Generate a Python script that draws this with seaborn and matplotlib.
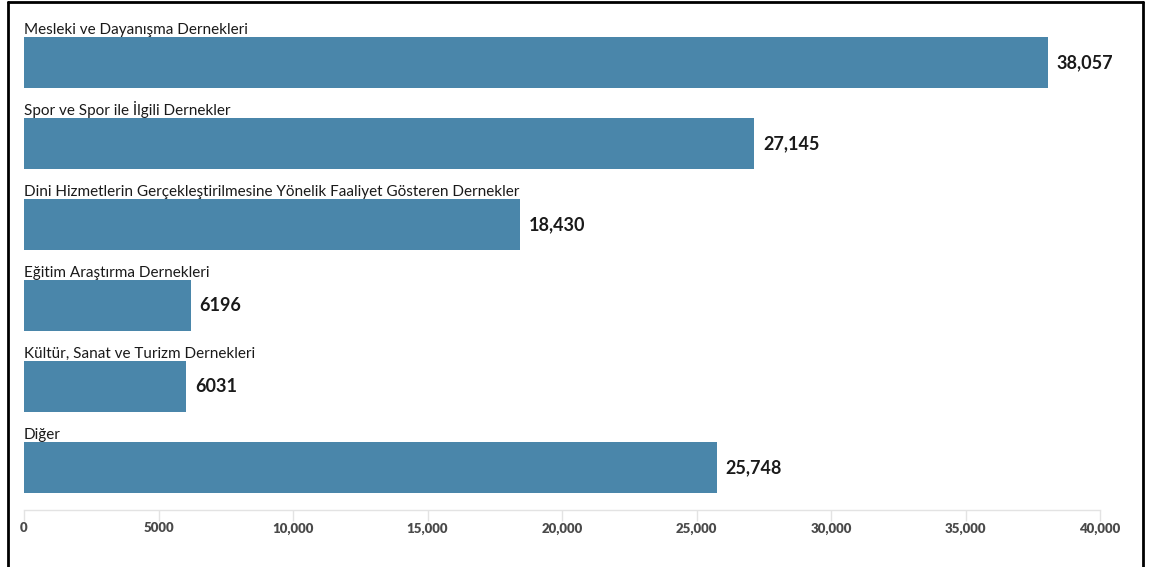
import pandas as pd
import matplotlib.pyplot as plt
import seaborn as sns
from matplotlib.lines import Line2D

# Data
categories = [
    "Mesleki ve Dayanışma Dernekleri",
    "Spor ve Spor ile İlgili Dernekler",
    "Dini Hizmetlerin Gerçekleştirilmesine Yönelik Faaliyet Gösteren Dernekler",
    "Eğitim Araştırma Dernekleri",
    "Kültür, Sanat ve Turizm Dernekleri",
    "Diğer",
]
counts = [38057, 27145, 18430, 6196, 6031, 25748]
xticks = [0, 5000, 10000, 15000, 20000, 25000, 30000, 35000, 40000]

df = pd.DataFrame({"category": categories, "count": counts})


def fmt(v):
    # 4-digit numbers have no thousands separator in the original
    return f"{v:,.0f}" if v >= 10000 else f"{v:.0f}"


sns.set_style("white")
plt.rcParams['font.family'] = ['Lato', 'DejaVu Sans']

W, H = 1150, 567
fig = plt.figure(figsize=(W / 100, H / 100), dpi=100)
ax = fig.add_axes([24 / W, 1 - 510 / H, (1100 - 24) / W, 495 / H])

bar_h = 51 / 81
sns.barplot(data=df, x="count", y="category", orient="h", color="#4a86aa",
            saturation=1, width=bar_h, linewidth=0, ax=ax)

ax.set_xlim(0, 40000)
ax.set_ylim(5.525, -0.586)
ax.set_xticks(xticks)
ax.set_xticklabels([fmt(t) for t in xticks], fontweight="heavy")
ax.set_yticks([])
ax.set_xlabel("")
ax.set_ylabel("")

for s in ["top", "right", "left"]:
    ax.spines[s].set_visible(False)
ax.spines["bottom"].set_color("#e3e3e3")
ax.spines["bottom"].set_linewidth(1)
ax.tick_params(axis="x", bottom=True, direction="out", length=8, width=1,
               color="#e3e3e3", labelsize=9.5, labelcolor="#4a4a4a", pad=1)

px = 1 / 81  # one pixel in y data units
xpx = 40000 / 1076  # one pixel in x data units
for i, (cat, val) in enumerate(zip(categories, counts)):
    ax.text(0, i - bar_h / 2 - 3 * px, cat, ha="left", va="baseline",
            fontsize=11, color="#1a1a1a")
    ax.text(val + 9 * xpx, i, fmt(val), ha="left", va="center",
            fontsize=13, fontweight="bold", color="#1a1a1a")

# outer frame (no bottom edge visible)
for xs, ys in [([7.5, 7.5], [0, 565]), ([7.5, 1143], [565, 565]), ([1143, 1143], [565, 0])]:
    fig.add_artist(Line2D([x / W for x in xs], [y / H for y in ys],
                          color="black", linewidth=2))

fig.savefig("out.png", dpi=100)
